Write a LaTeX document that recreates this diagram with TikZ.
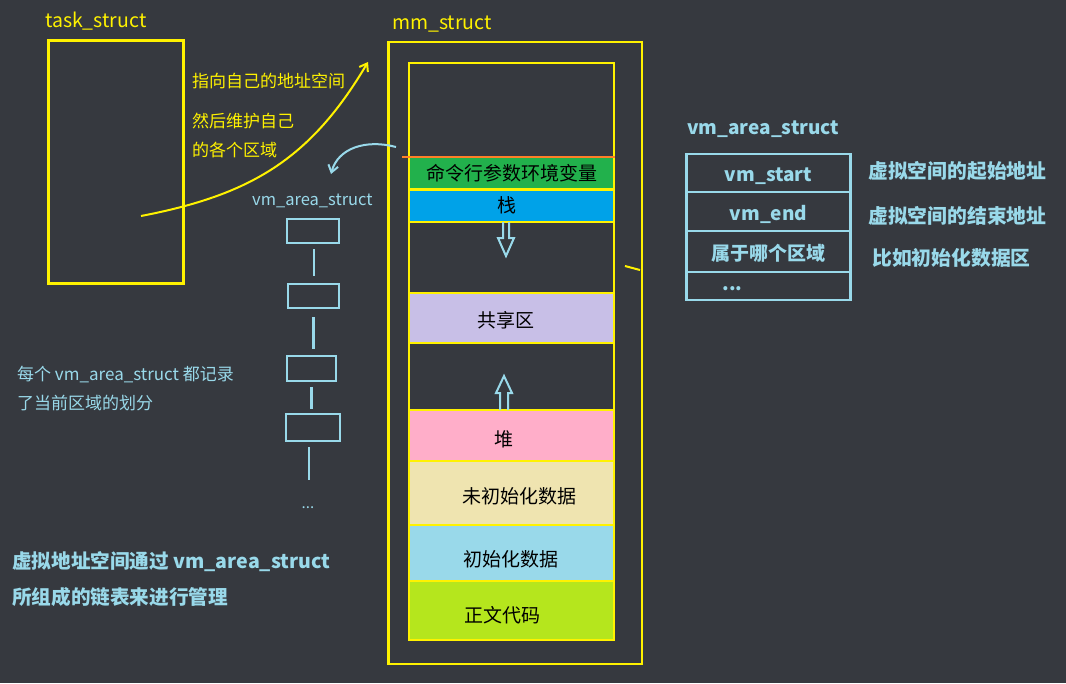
\documentclass[tikz,border=0pt]{standalone}
\usepackage{fontspec}
\setmainfont{Noto Sans CJK SC}
\usetikzlibrary{arrows.meta,positioning}
\definecolor{bg}{HTML}{36393F}
\definecolor{hl}{HTML}{FFF200}
\definecolor{sky}{HTML}{99D9EA}
\definecolor{argcol}{HTML}{22B14C}
\definecolor{stackcol}{HTML}{00A2E8}
\definecolor{sharecol}{HTML}{C8BFE7}
\definecolor{heapcol}{HTML}{FFAEC9}
\definecolor{bsscol}{HTML}{EFE4B0}
\definecolor{datacol}{HTML}{99D9EA}
\definecolor{codecol}{HTML}{B5E61D}
\definecolor{edgecol}{HTML}{FF7F27}
\newcommand{\fs}[1]{\fontsize{#1}{#1}\selectfont}
\tikzset{seg/.style={draw=hl,line width=2.5pt,minimum width=205pt,inner sep=0pt,outer sep=0pt}}

\begin{document}
\begin{tikzpicture}[x=1pt,y=-1pt,node distance=0pt,>={Straight Barb[length=7pt,width=10pt]}]

      \tikzstyle{box}=[draw=hl,line width=2.5pt,inner sep=0pt,anchor=north west]
      \tikzstyle{link}=[draw=sky,line width=2.5pt,inner sep=0pt,minimum height=24pt]
      \tikzstyle{field}=[draw=sky,line width=2.5pt,minimum width=164pt,inner sep=0pt,
                         outer sep=0pt,text=sky,font=\bfseries\fs{19},text height=17pt,text depth=0pt]
      \tikzstyle{tag}=[inner sep=0pt,anchor=west]
      \tikzstyle{hollow}=[draw=sky,line width=2pt,line join=miter]
      \tikzstyle{every label}=[black,inner sep=0pt,font=\fs{19}]

      \fill[bg] (0,0) rectangle (1066,683);

      %task_struct
      \node [tag,anchor=base west,text=hl,font=\fs{19.5}] (tasktitle) at (45,27) {task\_struct};
      \node [box,minimum width=135pt,minimum height=243pt] (task) at (47,39) {};

      %mm_struct and its segments
      \node [tag,anchor=base west,text=hl,font=\fs{19.5}] (mmtitle) at (392,29) {mm\_struct};
      \node [box,minimum width=253.5pt,minimum height=622pt] (mm) at (387,40.5) {};

      \node [seg,minimum height=94pt,anchor=north] (free) at (511.5,63) {};
      \node [seg,fill=argcol,minimum height=32.5pt,below=of free,label={center:命令行参数环境变量}] (args) {};
      \node [seg,fill=stackcol,minimum height=32.5pt,below=of args,label={[xshift=-5pt]center:栈}] (stack) {};
      \node [seg,minimum height=71pt,below=of stack] (gapa) {};
      \node [seg,fill=sharecol,minimum height=50pt,below=of gapa,label={[xshift=-6pt,yshift=-2pt]center:共享区}] (share) {};
      \node [seg,minimum height=67pt,below=of share] (gapb) {};
      \node [seg,fill=heapcol,minimum height=51pt,below=of gapb,label={[xshift=-8pt,yshift=-4pt]center:堆}] (heap) {};
      \node [seg,fill=bsscol,minimum height=64pt,below=of heap,label={[xshift=8pt,yshift=-3pt]center:未初始化数据}] (bss) {};
      \node [seg,fill=datacol,minimum height=56pt,below=of bss,label={[xshift=-1pt,yshift=-6pt]center:初始化数据}] (data) {};
      \node [seg,fill=codecol,minimum height=59pt,below=of data,label={[xshift=-9pt,yshift=-5pt]center:正文代码}] (code) {};
      \draw [edgecol,line width=2.5pt] ([xshift=-7pt]args.north west) -- ([xshift=1pt]args.north east);

      %growth arrows
      \draw [hollow] (503,222) -- (503,238) -- (498,238) -- (506,256) -- (514,238) -- (509,238) -- (509,222);
      \draw [hollow] (500,410) -- (500,393) -- (496,393) -- (504,376) -- (512,393) -- (508,393) -- (508,410);

      %pointers
      \coordinate (from) at (141,216);
      \coordinate (into) at (368,62);
      \draw [->,hl,line width=2pt] (from) .. controls (250,195) and (310,160) .. (into);
      \coordinate (back) at (396,147);
      \coordinate (down) at (331,174);
      \draw [->,sky,line width=2pt] (back) .. controls (366,139) and (338,148) .. (down);
      \draw [hl,line width=2pt] (625,266) -- (640,270);

      \node [tag,text=hl,font=\fs{17}] (say1) at (192,81) {指向自己的地址空间};
      \node [tag,text=hl,font=\fs{17}] (say2) at (192,121) {然后维护自己};
      \node [tag,text=hl,font=\fs{17}] (say3) at (192,150) {的各个区域};

      %vm_area_struct chain
      \node [tag,anchor=base west,text=sky,font=\fs{16.5}] (chaintitle) at (252,205) {vm\_area\_struct};
      \node [link,minimum width=52pt] (v1) at (313,231) {};
      \node [link,minimum width=51pt] (v2) at (313.5,296) {};
      \node [link,minimum width=49pt,minimum height=25pt] (v3) at (311.5,368.5) {};
      \node [link,minimum width=54pt,minimum height=27pt] (v4) at (313,427.5) {};
      \node [inner sep=0pt,text=sky,font=\fs{15}] (more) at (308,508) {...};
      \draw [sky,line width=2.5pt,shorten <=5pt,shorten >=7pt] ([xshift=1pt]v1.south) -- ([xshift=1pt]v1.south |- v2.north);
      \draw [sky,line width=2.5pt,shorten <=8pt,shorten >=6pt] (v2.south) -- (v2.south |- v3.north);
      \draw [sky,line width=2.5pt,shorten <=5pt,shorten >=4pt] (v3.south) -- (v3.south |- v4.north);
      \draw [sky,line width=2.5pt,shorten <=5pt,shorten >=27pt] ([xshift=-4pt]v4.south) -- ([xshift=-4pt]v4.south |- more.north);

      \node [tag,text=sky,font=\fs{17}] (note1) at (17,374) {每个 vm\_area\_struct 都记录};
      \node [tag,text=sky,font=\fs{17}] (note2) at (17,403) {了当前区域的划分};
      \node [tag,text=sky,font=\bfseries\fs{19.6}] (sum1) at (12,562) {虚拟地址空间通过 vm\_area\_struct};
      \node [tag,text=sky,font=\bfseries\fs{19.6}] (sum2) at (12,597) {所组成的链表来进行管理};

      %fields of vm_area_struct
      \node [tag,anchor=base west,text=sky,font=\bfseries\fs{19}] (fieldtitle) at (687,134) {vm\_area\_struct};
      \node [field,minimum height=38pt,anchor=north] (start) at (768.5,154) {vm\_start};
      \node [field,minimum height=39pt,below=of start] (end) {vm\_end};
      \node [field,minimum height=41pt,below=of end] (which) {属于哪个区域};
      \node [field,minimum height=28pt,below=of which,label={[xshift=-36pt,yshift=-3pt,text=sky,font=\bfseries\fs{19}]center:...}] (etc) {};

      \node [tag,text=sky,font=\bfseries\fs{19.8}] (startnote) at (868,171) {虚拟空间的起始地址};
      \node [tag,text=sky,font=\bfseries\fs{19.8}] (endnote) at (868,216) {虚拟空间的结束地址};
      \node [tag,text=sky,font=\bfseries\fs{19.8}] (whichnote) at (872,258) {比如初始化数据区};

\end{tikzpicture}
\end{document}
